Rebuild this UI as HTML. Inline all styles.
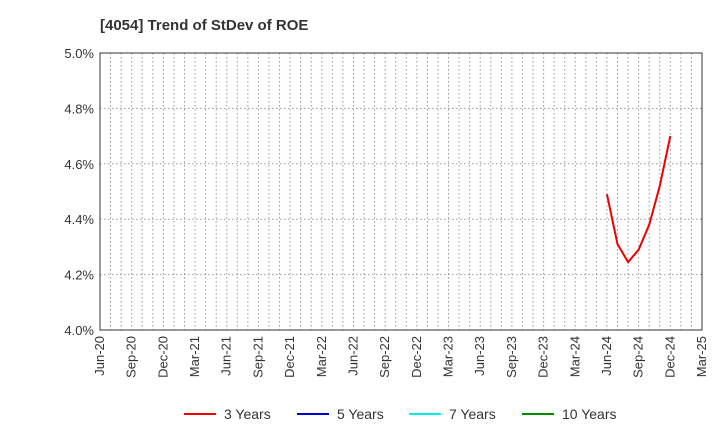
<!DOCTYPE html>
<html><head><meta charset="utf-8"><style>
body{margin:0;background:#fff;font-family:"Liberation Sans",sans-serif}
</style></head><body>
<svg id="c" width="720" height="440" xmlns="http://www.w3.org/2000/svg" font-family="Liberation Sans, sans-serif">
<text x="100" y="30" font-size="15" font-weight="bold" fill="#333">[4054]  Trend of StDev of ROE</text>
<g id="grid"></g><g id="axes"></g><g id="series"></g><g id="legend"></g>
</svg>
<script>
const xLabels=["Jun-20","Sep-20","Dec-20","Mar-21","Jun-21","Sep-21","Dec-21","Mar-22","Jun-22","Sep-22","Dec-22","Mar-23","Jun-23","Sep-23","Dec-23","Mar-24","Jun-24","Sep-24","Dec-24","Mar-25"];
const yTicks=[4.0,4.2,4.4,4.6,4.8,5.0];
const months3=[48,49,50,51,52,53,54];
const values3=[4.49,4.31,4.245,4.29,4.38,4.52,4.70];
const legendNames=["3 Years","5 Years","7 Years","10 Years"];
const legendColors=["#e00","#00c","#0ee","#080"];
const L=100,R=702,T=53,B=330,NS="http://www.w3.org/2000/svg";
const xs=m=>L+m*(R-L)/57, ys=v=>B-(v-4.0)/(1.0)*(B-T);
function mk(t,a,p){const e=document.createElementNS(NS,t);for(const k in a)e.setAttribute(k,a[k]);p.appendChild(e);return e;}
const g=document.getElementById('grid'),ax=document.getElementById('axes'),s=document.getElementById('series'),lg=document.getElementById('legend');
for(let m=1;m<57;m++){const l=mk('line',{x1:xs(m),x2:xs(m),y1:T,y2:B,stroke:'#999','stroke-dasharray':'1.5,2.5'},g);

}
yTicks.forEach(v=>{if(v>4.0&&v<5.0){const l=mk('line',{x1:L,x2:R,y1:ys(v),y2:ys(v),stroke:'#999','stroke-dasharray':'1.5,2.5'},g);

}
const t=mk('text',{x:L-6,y:ys(v)+5,'text-anchor':'end','font-size':13,fill:'#333'},ax);t.textContent=v.toFixed(1)+'%';

});
const fr=mk('rect',{x:L,y:T,width:R-L,height:B-T,fill:'none',stroke:'#333'},ax);


xLabels.forEach((lab,i)=>{const x=xs(i*3);const t=mk('text',{transform:`translate(${x+4},${B+6}) rotate(-90)`,'text-anchor':'end','font-size':13,fill:'#333'},ax);t.textContent=lab;

});
const p=mk('polyline',{points:months3.map((m,i)=>xs(m)+','+ys(values3[i])).join(' '),fill:'none',stroke:'#e00','stroke-width':2},s);


const lx=[184,297,409,522];
legendNames.forEach((n,i)=>{const l=mk('line',{x1:lx[i],x2:lx[i]+32,y1:414,y2:414,stroke:legendColors[i],'stroke-width':2},lg);


const t=mk('text',{x:lx[i]+40,y:419,'font-size':14,fill:'#333'},lg);t.textContent=n;

});
</script>
</body></html>
